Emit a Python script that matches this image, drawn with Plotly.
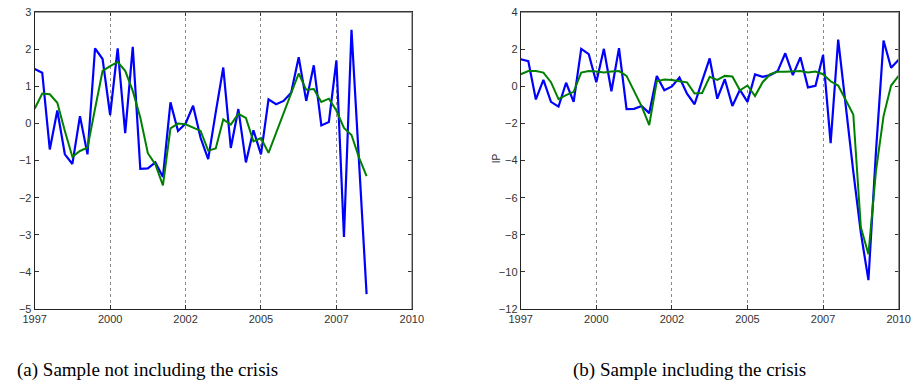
import plotly.graph_objects as go

# quarterly index (period number k) -> position on the year axis
step = 0.26
start_year = 1997

ip_actual = [1.47, 1.37, -0.70, 0.35, -0.83, -1.09, 0.20, -0.83, 2.03, 1.74,
             0.23, 2.03, -0.26, 2.07, -1.22, -1.21, -1.05, -1.44, 0.57, -0.20,
             0.00, 0.48, -0.39, -0.96, 0.30, 1.51, -0.66, 0.39, -1.05, -0.18,
             -0.83, 0.65, 0.52, 0.61, 0.83, 1.79, 0.61, 1.57, -0.05, 0.04,
             1.70, -3.06, 2.53, -1.10, -4.60, -7.90, -10.45, -3.50, 2.48, 1.01,
             1.44]

fit_no_crisis = [0.40, 0.81, 0.79, 0.56, -0.20, -0.90, -0.74, -0.65, 0.40, 1.42,
                 1.55, 1.66, 1.42, 0.88, 0.16, -0.80, -1.10, -1.67, -0.13, 0.00,
                 -0.02, -0.12, -0.20, -0.73, -0.67, 0.11, -0.03, 0.26, 0.15, -0.48,
                 -0.39, -0.79, -0.25, 0.27, 0.78, 1.35, 0.91, 0.93, 0.58, 0.67,
                 0.35, -0.12, -0.31, -0.92, -1.42]

fit_crisis = [0.66, 0.83, 0.83, 0.75, 0.23, -0.68, -0.47, -0.29, 0.75, 0.83,
              0.81, 0.75, 0.81, 0.83, 0.57, -0.24, -1.07, -2.08, 0.28, 0.37,
              0.35, 0.28, 0.22, -0.38, -0.35, 0.52, 0.35, 0.57, 0.54, -0.21,
              0.05, -0.52, 0.23, 0.66, 0.80, 0.80, 0.80, 0.83, 0.75, 0.80,
              0.66, 0.28, 0.05, -0.70, -1.51, -7.60, -9.05, -4.55, -1.60, 0.05,
              0.57]

tick_pos = [1997, 1999.6, 2002.2, 2004.8, 2007.4, 2010]
tick_text = ["1997", "2000", "2002", "2005", "2007", "2010"]

captions = ["(a) Sample not including the crisis", "(b) Sample including the crisis"]

x_all = [start_year + step * k for k in range(len(ip_actual))]
x_left = x_all[:len(fit_no_crisis)]

BLUE = "#0000FF"
GREEN = "#008000"

fig = go.Figure()
fig.add_trace(go.Scatter(x=x_left, y=ip_actual[:len(fit_no_crisis)], mode="lines",
                         line=dict(color=BLUE, width=2.2), xaxis="x", yaxis="y",
                         showlegend=False))
fig.add_trace(go.Scatter(x=x_left, y=fit_no_crisis, mode="lines",
                         line=dict(color=GREEN, width=2), xaxis="x", yaxis="y",
                         showlegend=False))
fig.add_trace(go.Scatter(x=x_all, y=ip_actual, mode="lines",
                         line=dict(color=BLUE, width=2.2), xaxis="x2", yaxis="y2",
                         showlegend=False))
fig.add_trace(go.Scatter(x=x_all, y=fit_crisis, mode="lines",
                         line=dict(color=GREEN, width=2), xaxis="x2", yaxis="y2",
                         showlegend=False))

W, H = 924, 392
tickfont = dict(family="Liberation Sans, Arial, sans-serif", size=11, color="#333333")

def xax(domain, anchor):
    return dict(domain=domain, anchor=anchor, range=[1997, 2010],
                tickmode="array", tickvals=tick_pos, ticktext=tick_text,
                ticks="inside", ticklen=4, tickcolor="#333333",
                showline=True, linecolor="#222222", linewidth=1, mirror="ticks",
                showgrid=True, gridcolor="#8a8a8a", griddash="dot", gridwidth=1,
                zeroline=False, tickfont=tickfont)

def yax(domain, anchor, rng, dtick):
    return dict(domain=domain, anchor=anchor, range=rng, tickmode="linear",
                tick0=rng[0], dtick=dtick,
                ticks="inside", ticklen=4, tickcolor="#333333",
                showline=True, linecolor="#222222", linewidth=1, mirror="ticks",
                showgrid=False, zeroline=False, tickfont=tickfont)

ydom = [1 - 312.5 / H, 1 - 6.5 / H]
fig.update_layout(
    width=W, height=H, margin=dict(l=0, r=0, t=0, b=0),
    paper_bgcolor="white", plot_bgcolor="white",
    xaxis=xax([23.3 / W, 410.5 / W], "y"),
    yaxis=yax(ydom, "x", [-5, 3], 1),
    xaxis2=xax([522.3 / W, 910.3 / W], "y2"),
    yaxis2=yax(ydom, "x2", [-12, 4], 2),
)

# gray top/right frame edges
for xr, yr in (("x domain", "y domain"), ("x2 domain", "y2 domain")):
    fig.add_shape(type="line", xref=xr, yref=yr, x0=0, x1=1, y0=1, y1=1,
                  line=dict(color="#808080", width=1))
    fig.add_shape(type="line", xref=xr, yref=yr, x0=1, x1=1, y0=0, y1=1,
                  line=dict(color="#808080", width=1))

fig.add_annotation(text="IP", xref="paper", yref="paper", x=497 / W, y=1 - 157 / H,
                   textangle=-90, showarrow=False,
                   font=dict(family="Liberation Sans, Arial, sans-serif", size=10, color="#333333"))

cap_font = dict(family="Liberation Serif, DejaVu Serif, serif", size=19, color="black")
fig.add_annotation(text=captions[0], xref="paper", yref="paper", x=3 / W, y=1 - 376 / H,
                   showarrow=False, font=cap_font, xanchor="left", yanchor="middle")
fig.add_annotation(text=captions[1], xref="paper", yref="paper", x=696 / W, y=1 - 376 / H,
                   showarrow=False, font=cap_font, xanchor="center", yanchor="middle")

fig.write_html("out.html")
